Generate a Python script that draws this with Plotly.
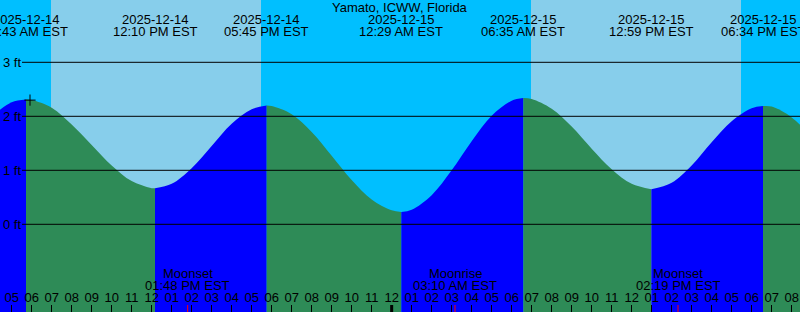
import pandas as pd
import plotly.graph_objects as go

TITLE = "Yamato, ICWW, Florida"
TZ = "EST"

# High / low tide events (time, height in ft)
HILO_TIMES = ["2025-12-14 05:43", "2025-12-14 12:10", "2025-12-14 17:45",
              "2025-12-15 00:29", "2025-12-15 06:35", "2025-12-15 12:59",
              "2025-12-15 18:34"]
HILO_FT = [2.31, 0.67, 2.20, 0.23, 2.34, 0.65, 2.19]

# Tide curve readings (hourly, plus the extremes)
CURVE_TIMES = [
    "2025-12-14 04:00", "2025-12-14 05:00", "2025-12-14 05:43", "2025-12-14 06:00",
    "2025-12-14 07:00", "2025-12-14 08:00", "2025-12-14 09:00", "2025-12-14 10:00",
    "2025-12-14 11:00", "2025-12-14 12:00", "2025-12-14 12:10", "2025-12-14 13:00",
    "2025-12-14 14:00", "2025-12-14 15:00", "2025-12-14 16:00", "2025-12-14 17:00",
    "2025-12-14 17:45", "2025-12-14 18:00", "2025-12-14 19:00", "2025-12-14 20:00",
    "2025-12-14 21:00", "2025-12-14 22:00", "2025-12-14 23:00", "2025-12-15 00:00",
    "2025-12-15 00:29", "2025-12-15 01:00", "2025-12-15 02:00", "2025-12-15 03:00",
    "2025-12-15 04:00", "2025-12-15 05:00", "2025-12-15 06:00", "2025-12-15 06:35",
    "2025-12-15 07:00", "2025-12-15 08:00", "2025-12-15 09:00", "2025-12-15 10:00",
    "2025-12-15 11:00", "2025-12-15 12:00", "2025-12-15 12:59", "2025-12-15 14:00",
    "2025-12-15 15:00", "2025-12-15 16:00", "2025-12-15 17:00", "2025-12-15 18:00",
    "2025-12-15 18:34", "2025-12-15 19:00", "2025-12-15 20:00", "2025-12-15 21:00",
]
CURVE_FT = [
    2.00, 2.26, 2.31, 2.30,
    2.16, 1.85, 1.47, 1.09,
    0.80, 0.67, 0.67, 0.75,
    1.04, 1.45, 1.86, 2.13,
    2.20, 2.19, 2.04, 1.71,
    1.27, 0.82, 0.46, 0.26,
    0.23, 0.27, 0.54, 1.00,
    1.54, 2.01, 2.29, 2.34,
    2.32, 2.14, 1.81, 1.40,
    1.02, 0.75, 0.65, 0.77,
    1.09, 1.52, 1.91, 2.15,
    2.19, 2.18, 1.98, 1.62,
]

SUNRISE = ["2025-12-14 06:58", "2025-12-15 06:58"]
SUNSET = ["2025-12-14 17:28", "2025-12-15 17:28"]

MOON_TIMES = ["2025-12-14 13:48", "2025-12-15 03:10", "2025-12-15 14:19"]
MOON_EVENTS = ["Moonset", "Moonrise", "Moonset"]

NOW_TIME = "2025-12-14 05:55"
NOW_FT = 2.30

MIDNIGHTS = ["2025-12-15 00:00"]

Y_TICKS = [0, 1, 2, 3]
Y_TICK_LABELS = ["0 ft", "1 ft", "2 ft", "3 ft"]

X_RANGE = ["2025-12-14 04:25", "2025-12-15 20:25"]
Y_RANGE = [-1.624, 4.154]

# colours
NIGHT = "#00BFFF"
DAY = "#87CEEB"
FLOOD = "#0000FF"
EBB = "#2E8B57"
FONT = "Liberation Sans, Arial, sans-serif"
H = 312.0

curve = pd.DataFrame({"t": pd.to_datetime(CURVE_TIMES), "ft": CURVE_FT})
hilo = pd.DataFrame({"t": pd.to_datetime(HILO_TIMES), "ft": HILO_FT})

fig = go.Figure()

bounds = [curve.t.iloc[0]] + list(hilo.t) + [curve.t.iloc[-1]]
for a, b in zip(bounds[:-1], bounds[1:]):
    seg = curve[(curve.t >= a) & (curve.t <= b)]
    rising = seg.ft.iloc[-1] > seg.ft.iloc[0]
    col = FLOOD if rising else EBB
    fig.add_trace(go.Scatter(x=[a, b], y=[Y_RANGE[0] - 1] * 2, mode="lines",
                             line=dict(width=0), hoverinfo="skip", showlegend=False))
    fig.add_trace(go.Scatter(x=seg.t, y=seg.ft, mode="lines", fill="tonexty",
                             fillcolor=col, line=dict(width=0, shape="spline", color=col),
                             hoverinfo="skip", showlegend=False))

fig.add_trace(go.Scatter(x=[pd.to_datetime(NOW_TIME)], y=[NOW_FT], mode="markers",
                         marker=dict(symbol="cross-thin", size=8,
                                     line=dict(color="black", width=1)),
                         showlegend=False, hoverinfo="skip"))

shapes = []
for sr, ss in zip(SUNRISE, SUNSET):
    shapes.append(dict(type="rect", xref="x", yref="paper", x0=sr, x1=ss, y0=0, y1=1,
                       fillcolor=DAY, line=dict(width=0), layer="below"))
for v in Y_TICKS:
    shapes.append(dict(type="line", xref="paper", yref="y", x0=22 / 800, x1=1, y0=v, y1=v,
                       line=dict(color="black", width=1), layer="above"))
for m in MIDNIGHTS:
    shapes.append(dict(type="line", xref="x", yref="paper", x0=m, x1=m, y0=0, y1=7 / H,
                       line=dict(color="black", width=3), layer="above"))
for m in MOON_TIMES:
    shapes.append(dict(type="line", xref="x", yref="paper", x0=m, x1=m, y0=0, y1=7 / H,
                       line=dict(color="red", width=1), layer="above"))

ann = []
ann.append(dict(text=TITLE, xref="paper", yref="paper", x=0.5, y=1 - 7.5 / H,
                showarrow=False, xanchor="center", yanchor="middle",
                font=dict(size=13, color="black", family=FONT)))
for t in hilo.t:
    ann.append(dict(text=t.strftime("%Y-%m-%d"), xref="x", yref="paper", x=t, y=1 - 19.7 / H,
                    showarrow=False, xanchor="center", yanchor="middle",
                    font=dict(size=13, color="black", family=FONT)))
    ann.append(dict(text=t.strftime("%I:%M %p ") + TZ, xref="x", yref="paper", x=t,
                    y=1 - 31.4 / H, showarrow=False, xanchor="center", yanchor="middle",
                    font=dict(size=13, color="black", family=FONT)))
for t, ev in zip(pd.to_datetime(MOON_TIMES), MOON_EVENTS):
    ann.append(dict(text=ev, xref="x", yref="paper", x=t, y=1 - 273.5 / H,
                    showarrow=False, xanchor="center", yanchor="middle",
                    font=dict(size=13, color="black", family=FONT)))
    ann.append(dict(text=t.strftime("%I:%M %p ") + TZ, xref="x", yref="paper", x=t,
                    y=1 - 285.8 / H, showarrow=False, xanchor="center", yanchor="middle",
                    font=dict(size=13, color="black", family=FONT)))
for v, lab in zip(Y_TICKS, Y_TICK_LABELS):
    ann.append(dict(text=lab, xref="paper", yref="y", x=1 / 800, y=v, showarrow=False,
                    xanchor="left", yanchor="middle",
                    font=dict(size=13, color="black", family=FONT)))

fig.update_layout(
    width=800, height=312, margin=dict(l=0, r=0, t=0, b=0),
    paper_bgcolor=NIGHT, plot_bgcolor=NIGHT,
    shapes=shapes, annotations=ann, showlegend=False,
    xaxis=dict(type="date", range=X_RANGE, showgrid=False, zeroline=False, showline=False,
               ticks="inside", ticklen=7, tickwidth=1, tickcolor="black",
               dtick=3600000, tick0="2025-12-14 00:00", tickformat="%I",
               ticklabelposition="inside", layer="above traces",
               tickfont=dict(size=13, color="black", family=FONT), fixedrange=True),
    yaxis=dict(range=Y_RANGE, visible=False, fixedrange=True),
)

fig.write_html("out.html")
